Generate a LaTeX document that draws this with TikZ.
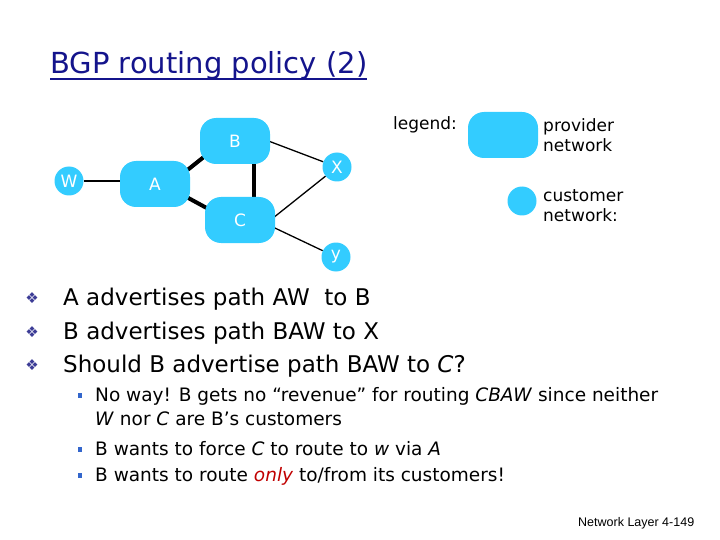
\documentclass[tikz,border=0pt]{standalone}
\usepackage{fontspec}
\setmainfont{DejaVu Sans}
\newfontfamily\footfont{Liberation Sans}
\usetikzlibrary{backgrounds}
\definecolor{netblue}{RGB}{51,204,255}
\definecolor{titleblue}{RGB}{20,20,140}
\definecolor{dotblue}{RGB}{60,60,150}
\definecolor{sqblue}{RGB}{51,102,204}
\definecolor{onlyred}{RGB}{192,0,0}
\begin{document}
\begin{tikzpicture}[x=1pt,y=-1pt, line join=round, line cap=round,
    prov/.style={fill=netblue, rounded corners=16pt, minimum width=70pt, minimum height=46pt,
      text=white, font=\fontsize{17}{17}\selectfont},
    cust/.style={circle, fill=netblue, minimum size=29pt, inner sep=0pt,
      text=white, font=\fontsize{17}{17}\selectfont},
    link/.style={line width=1.3pt},
    trunk/.style={line width=4pt, line cap=butt},
    txt/.style={anchor=base west, inner sep=0pt},
    legtxt/.style={txt, font=\fontsize{17}{17}\selectfont},
    maintxt/.style={txt, font=\fontsize{23}{23}\selectfont},
    subtxt/.style={txt, font=\fontsize{18.5}{18.5}\selectfont}]
    \useasboundingbox (0,0) rectangle (720,540);
    % title
    \node[txt, text=titleblue, font=\fontsize{29}{29}\selectfont] (title) at (50,74) {BGP routing policy (2)};
    \draw[titleblue, line width=2pt, line cap=butt] ([yshift=-5pt]title.base west) -- ([yshift=-5pt]title.base east);
    % networks
    \node[cust] (W) at (69,181) {W};
    \node[prov] (A) at (155,184) {A};
    \node[prov] (B) at (235,141) {B};
    \node[prov] (C) at (240,220) {C};
    \node[cust] (X) at (337,167) {X};
    \node[cust] (y) at (336,257) {y};
    \begin{scope}[on background layer]
        \draw[link] (W) -- (W -| A);
        \draw[trunk] ([shift={(20,-4)}]A.center) -- ([shift={(-15,3)}]B.center);
        \draw[trunk] ([shift={(15,4)}]A.center) -- ([shift={(-15,-2)}]C.center);
        \draw[trunk] ([shift={(19,9)}]B.center) -- ([shift={(14,-10)}]C.center);
        \draw[link] ([shift={(15,-7)}]B.center) -- (X);
        \draw[link] ([shift={(18,10)}]C.center) -- (X);
        \draw[link] ([shift={(18,0)}]C.center) -- (y);
    \end{scope}
    % legend
    \node[legtxt] (legend) at (393,130) {legend:};
    \node[prov] (provkey) at (503,135) {};
    \node[legtxt] (prov1) at (543,132) {provider};
    \node[legtxt] (prov2) at (543,152) {network};
    \node[cust] (custkey) at (522,201) {};
    \node[legtxt] (cust1) at (543,202) {customer};
    \node[legtxt] (cust2) at (543,222) {network:};
    % bullets
    \foreach \n/\yy/\t in {1/305/{A advertises path AW\ \ to B},
                           2/339/{B advertises path BAW to X},
                           3/372/{Should B advertise path BAW to \textit{C}?}}{
        \node[text=dotblue, font=\fontsize{15}{15}\selectfont, inner sep=0pt] (dot\n) at (32,\yy-7) {❖};
        \node[maintxt] (pt\n) at (63,\yy) {\t};
    }
    \foreach \n/\yy in {1/401,3/455,4/481}
        \node[fill=sqblue, minimum width=4pt, minimum height=5pt, inner sep=0pt] (sq\n) at (80,\yy-6) {};
    \node[subtxt] (sub1) at (95,401) {No way! B gets no “revenue” for routing \textit{CBAW} since neither};
    \node[subtxt] (sub2) at (95,425) {\textit{W} nor \textit{C} are B’s customers};
    \node[subtxt] (sub3) at (95,455) {B wants to force \textit{C} to route to \textit{w} via \textit{A}};
    \node[subtxt] (sub4) at (95,481) {B wants to route \textcolor{onlyred}{\textit{only}} to/from its customers!};
    % footer
    \node[txt, font=\footfont\fontsize{12.5}{12.5}\selectfont] (foot) at (578,526) {Network Layer 4-149};
\end{tikzpicture}
\end{document}
